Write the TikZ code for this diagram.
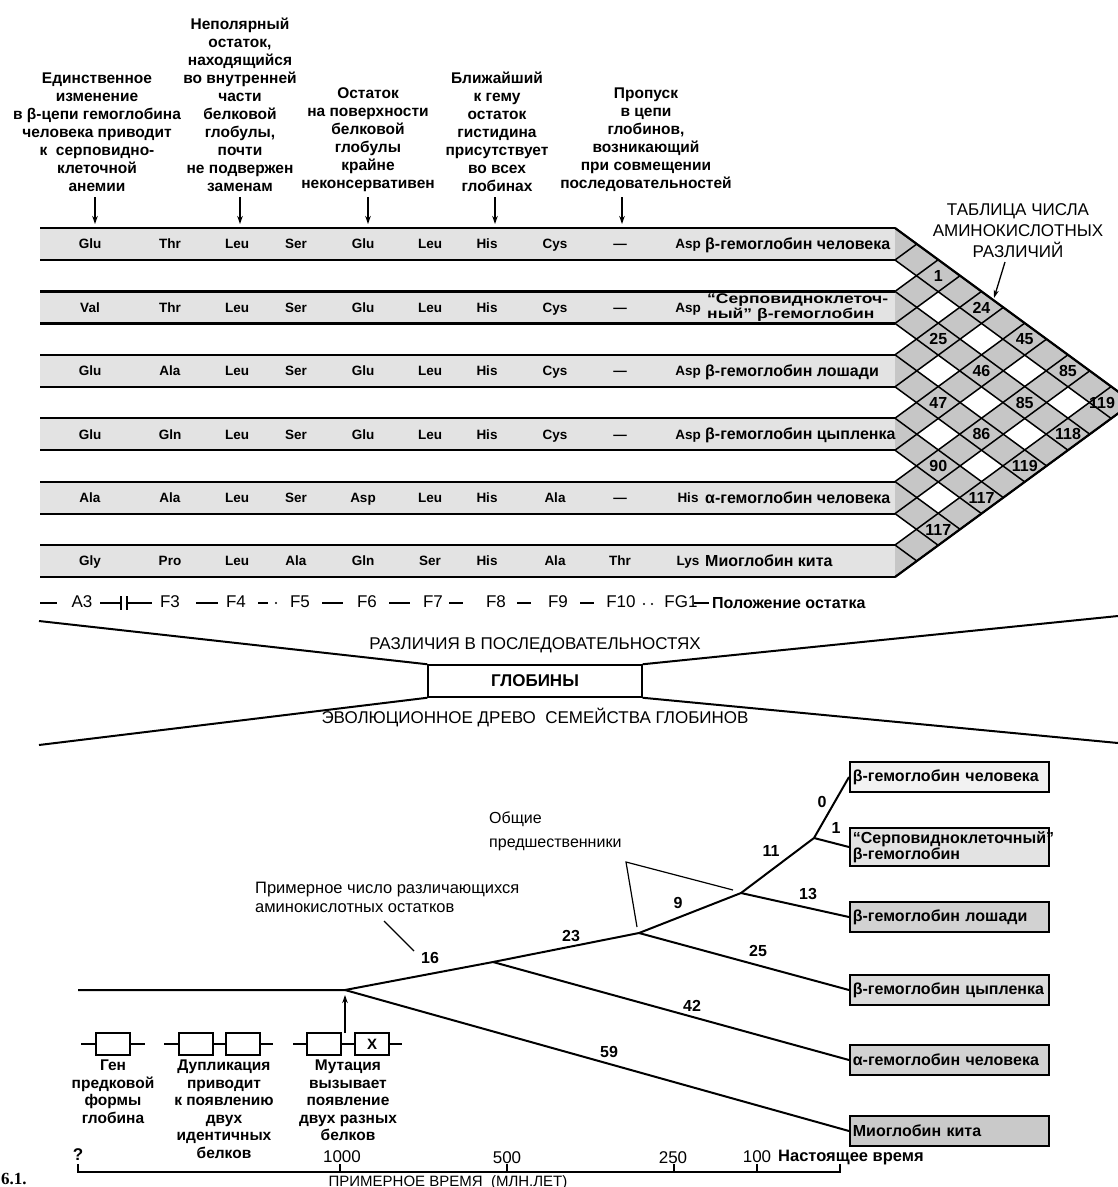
\documentclass[tikz,border=0pt]{standalone}
\usepackage{fontspec}
\setmainfont{Liberation Sans}
\newfontfamily\condf[FakeStretch=0.85]{Liberation Sans}
\newfontfamily\widef[FakeStretch=1.25]{Liberation Sans}
\newfontfamily\serfont{Liberation Serif}
\usetikzlibrary{arrows.meta}
\tikzset{
  annot/.style={align=center, inner sep=0pt, anchor=south, font=\fontsize{15.5}{18}\selectfont\bfseries},
  downarrow/.style={line width=1.4pt, -{Stealth[length=8pt,width=5.5pt]}},
  rowedge/.style={line width=2.2pt},
  latline/.style={line width=1.5pt},
  res/.style={font=\fontsize{13.5}{14}\selectfont\bfseries, inner sep=0pt, anchor=base},
  rowlab/.style={font=\fontsize{16}{16}\selectfont\bfseries, inner sep=0pt, anchor=base west},
  cellnum/.style={font=\fontsize{16}{16}\selectfont\bfseries, inner sep=0pt, anchor=base},
  poslab/.style={font=\fontsize{17}{17}\selectfont, inner sep=0pt, anchor=base},
  posdash/.style={line width=1.4pt},
  banner/.style={line width=2pt},
  bantext/.style={font=\fontsize{17}{17}\selectfont, inner sep=0pt},
  tline/.style={line width=2pt},
  tbox/.style={draw, line width=1.8pt, anchor=west, text width=193pt, minimum height=30pt, inner sep=3pt, align=left, font=\fontsize{16}{13}\selectfont\bfseries},
  tnum/.style={font=\fontsize{16}{16}\selectfont\bfseries, inner sep=0pt},
  note/.style={font=\fontsize{16.5}{19}\selectfont, inner sep=0pt, align=left, anchor=north west},
  gene/.style={draw, line width=1.4pt, fill=white, minimum width=34pt, minimum height=22pt, inner sep=0pt},
  geneline/.style={line width=1.4pt},
  glab/.style={font=\fontsize{15.5}{17.5}\selectfont\bfseries, align=center, anchor=north, inner sep=0pt},
  tick/.style={line width=1.4pt},
  tlab/.style={font=\fontsize{17}{17}\selectfont, inner sep=0pt, anchor=base},
}
\begin{document}
\begin{tikzpicture}[x=1pt,y=-1pt]
\useasboundingbox (0,0) rectangle (1118,1187);

% ---------- top annotations ----------
\node[annot] (t1) at (97,192) {Единственное\\изменение\\в β-цепи гемоглобина\\человека приводит\\к\ \ серповидно-\\клеточной\\анемии};
\node[annot] (t2) at (240,192) {Неполярный\\остаток,\\находящийся\\во внутренней\\части\\белковой\\глобулы,\\почти\\не подвержен\\заменам};
\node[annot] (t3) at (368,192) {Остаток\\на поверхности\\белковой\\глобулы\\крайне\\неконсервативен};
\node[annot] (t4) at (497,192) {Ближайший\\к гему\\остаток\\гистидина\\присутствует\\во всех\\глобинах};
\node[annot] (t5) at (646,192) {Пропуск\\в цепи\\глобинов,\\возникающий\\при совмещении\\последовательностей};
\foreach \n/\ax in {1/95,2/240,3/368,4/495,5/622}{
  \coordinate (a\n s) at (\ax,197);
  \coordinate (a\n e) at (\ax,224);
  \draw[downarrow] (a\n s) -- (a\n e);
}

% ---------- rows ----------
\foreach \r in {0,...,5}{
  \pgfmathsetmacro\rt{228+63.4*\r}
  \pgfmathsetmacro\rb{260+63.4*\r}
  \fill[gray!22] (40,\rt) rectangle (895,\rb);
}
% chevron table
\fill[gray!45] (895,228) -- (1133,402.5) -- (895,577) -- cycle;
\foreach \g in {0,...,4}{
  \foreach \h in {\g,...,4}{
    \pgfmathsetmacro\Bg{260+63.4*\g}
    \pgfmathsetmacro\Tg{291.4+63.4*\g}
    \pgfmathsetmacro\Bh{260+63.4*\h}
    \pgfmathsetmacro\Th{291.4+63.4*\h}
    \fill[white] ({895+(\Bh-\Bg)/1.466},{(\Bg+\Bh)/2}) -- ({895+(\Th-\Bg)/1.466},{(\Bg+\Th)/2}) -- ({895+(\Th-\Tg)/1.466},{(\Tg+\Th)/2}) -- ({895+(\Bh-\Tg)/1.466},{(\Tg+\Bh)/2}) -- cycle;
  }
}
\foreach \r in {0,...,5}{
  \foreach \e in {228,260}{
    \pgfmathsetmacro\ee{\e+63.4*\r}
    \draw[latline] (895,\ee) -- ({895+(577-\ee)/1.466},{(577+\ee)/2});
    \draw[latline] (895,\ee) -- ({895+(\ee-228)/1.466},{(228+\ee)/2});
    \draw[rowedge] (40,\ee) -- (895,\ee);
  }
}
\draw[rowedge] (895,228) -- (1133,402.5) -- (895,577);

% residues
\foreach \r/\rl in {0/{Glu,Thr,Leu,Ser,Glu,Leu,His,Cys,—,Asp},
                    1/{Val,Thr,Leu,Ser,Glu,Leu,His,Cys,—,Asp},
                    2/{Glu,Ala,Leu,Ser,Glu,Leu,His,Cys,—,Asp},
                    3/{Glu,Gln,Leu,Ser,Glu,Leu,His,Cys,—,Asp},
                    4/{Ala,Ala,Leu,Ser,Asp,Leu,His,Ala,—,His},
                    5/{Gly,Pro,Leu,Ala,Gln,Ser,His,Ala,Thr,Lys}}{
  \pgfmathsetmacro\ry{248.8+63.4*\r}
  \foreach \t [count=\c] in \rl {
    \pgfmathsetmacro\cx{{90,170,237,296,363,430,487,555,620,688}[\c-1]}
    \node[res] (r\r-\c) at (\cx,\ry) {\t};
  }
}
\node[rowlab] (lab0) at (705,249.5) {β-гемоглобин человека};
\node[rowlab, anchor=west, font=\widef\bfseries\fontsize{14}{12}\selectfont, align=left] (lab1) at (707,307.5) {“Серповидноклеточ-\\ный” β-гемоглобин};
\node[rowlab] (lab2) at (705,376.3) {β-гемоглобин лошади};
\node[rowlab] (lab3) at (705,439.7) {β-гемоглобин цыпленка};
\node[rowlab] (lab4) at (705,503.1) {α-гемоглобин человека};
\node[rowlab] (lab5) at (705,566.5) {Миоглобин кита};

% numbers in table
\foreach \i/\j/\v in {0/1/1,0/2/24,1/2/25,0/3/45,1/3/46,0/4/85,2/3/47,1/4/85,2/4/86,1/5/118,3/4/90,2/5/119,3/5/117,4/5/117}{
  \pgfmathsetmacro\ci{244+63.4*\i}
  \pgfmathsetmacro\cj{244+63.4*\j}
  \node[cellnum] (n\i\j) at ({895+(\cj-\ci)/1.466},{(\ci+\cj)/2+5.7}) {\v};
}
\node[cellnum] (n05) at (1102,408.2) {119};
\node[font=\fontsize{17}{21}\selectfont, align=center, inner sep=0pt] (ttl) at (1018,231) {ТАБЛИЦА ЧИСЛА\\АМИНОКИСЛОТНЫХ\\РАЗЛИЧИЙ};
\coordinate (ttla) at (1005,262);
\coordinate (ttlb) at (994,298);
\draw[line width=1.3pt, -{Stealth[length=8pt,width=5pt]}] (ttla) -- (ttlb);

% ---------- residue positions ----------
\foreach \p/\px in {A3/82,F3/170,F4/236,F5/300,F6/367,F7/433,F8/496,F9/558,F10/621,FG1/681}{
  \node[poslab] (p\p) at (\px,607.5) {\p};
}
\draw[posdash] (40,603) -- (57,603);
\draw[posdash] (100,603) -- (121,603) (121,596) -- (121,610) (127,596) -- (127,610) (127,603) -- (152,603);
\draw[posdash] (196,603) -- (218,603);
\draw[posdash] (258,603) -- (268,603);
\fill (276,603) circle (1.2pt);
\draw[posdash] (322,603) -- (343,603);
\draw[posdash] (389,603) -- (410,603);
\draw[posdash] (449,603) -- (463,603);
\draw[posdash] (517,603) -- (531,603);
\draw[posdash] (580,603) -- (594,603);
\fill (644,604) circle (1.2pt) (652,604) circle (1.2pt);
\draw[posdash] (694,603) -- (709,603);
\node[font=\fontsize{16}{16}\selectfont\bfseries, anchor=base west, inner sep=0pt] (poslabel) at (712,608) {Положение остатка};

% ---------- banner ----------
\node[draw, line width=1.5pt, minimum width=214pt, minimum height=32pt, inner sep=0pt, font=\fontsize{17}{17}\selectfont\bfseries] (glob) at (535,681) {ГЛОБИНЫ};
\coordinate (bul) at (39,621);
\coordinate (bur) at (1118,616);
\coordinate (bll) at (39,745);
\coordinate (blr) at (1118,743);
\draw[banner] (bul) -- (glob.north west);
\draw[banner] (glob.north east) -- (bur);
\draw[banner] (bll) -- (glob.south west);
\draw[banner] (glob.south east) -- (blr);
\node[bantext] (bt1) at (535,645) {РАЗЛИЧИЯ В ПОСЛЕДОВАТЕЛЬНОСТЯХ};
\node[bantext] (bt2) at (535,718) {ЭВОЛЮЦИОННОЕ ДРЕВО\ \ СЕМЕЙСТВА ГЛОБИНОВ};

% ---------- tree ----------
\coordinate (R0) at (78,990);
\coordinate (A) at (345,990);
\coordinate (C) at (493,962);
\coordinate (D) at (639,933);
\coordinate (E) at (741,893);
\coordinate (F) at (814,838);
\node[tbox, fill=gray!10] (hb) at (849,777) {β-гемоглобин человека};
\node[tbox, fill=gray!22, minimum height=36pt] (sk) at (849,847) {“Серповидноклеточный”\\β-гемоглобин};
\node[tbox, fill=gray!35] (hr) at (849,917) {β-гемоглобин лошади};
\node[tbox, fill=gray!28] (ck) at (849,990) {β-гемоглобин цыпленка};
\node[tbox, fill=gray!35] (al) at (849,1060) {α-гемоглобин человека};
\node[tbox, fill=gray!42] (my) at (849,1131) {Миоглобин кита};
\draw[tline] (R0) -- (A) -- (C) -- (D) -- (E) -- (F) -- (hb.west);
\draw[tline] (F) -- (sk.west);
\draw[tline] (E) -- (hr.west);
\draw[tline] (D) -- (ck.west);
\draw[tline] (C) -- (al.west);
\draw[tline] (A) -- (my.west);
\node[tnum] (l0) at (822,802) {0};
\node[tnum] (l1) at (836,828) {1};
\node[tnum] (l11) at (771,851) {11};
\node[tnum] (l13) at (808,894) {13};
\node[tnum] (l9) at (678,903) {9};
\node[tnum] (l25) at (758,951) {25};
\node[tnum] (l23) at (571,936) {23};
\node[tnum] (l42) at (692,1006) {42};
\node[tnum] (l59) at (609,1052) {59};
\node[tnum] (l16) at (430,958) {16};
\node[note] (prim) at (255,882) {Примерное число различающихся\\аминокислотных остатков};
\coordinate (pa) at (384,921);
\coordinate (pb) at (414,951);
\draw[line width=1.2pt] (pa) -- (pb);
\node[note, font=\fontsize{16}{24}\selectfont] (obsh) at (489,812) {Общие\\предшественники};
\coordinate (P) at (626,862);
\coordinate (PD) at (637,927);
\coordinate (PE) at (733,890);
\draw[line width=1.2pt] (PD) -- (P) -- (PE);

% genes
\coordinate (gA) at (345,1033);
\coordinate (gB) at (345,995);
\draw[line width=1.4pt, -{Stealth[length=8pt,width=5.5pt]}] (gA) -- (gB);
\draw[geneline] (81,1044) -- (145,1044);
\node[gene] (g1) at (113,1044) {};
\draw[geneline] (164,1044) -- (273,1044);
\node[gene] (g2a) at (196,1044) {};
\node[gene] (g2b) at (243,1044) {};
\draw[geneline] (293,1044) -- (402,1044);
\node[gene] (g3a) at (324,1044) {};
\node[gene, font=\fontsize{15}{15}\selectfont\bfseries] (g3b) at (372,1044) {X};
\node[glab] (gl1) at (113,1060) {Ген\\предковой\\формы\\глобина};
\node[glab] (gl2) at (224,1060) {Дупликация\\приводит\\к появлению\\двух\\идентичных\\белков};
\node[glab] (gl3) at (348,1060) {Мутация\\вызывает\\появление\\двух разных\\белков};

% ---------- timeline ----------
\draw[tick] (78,1164) -- (78,1172) -- (840,1172) -- (840,1164);
\foreach \tx in {340,507,674,757}{ \draw[tick] (\tx,1164) -- (\tx,1172); }
\node[tlab, font=\fontsize{17}{17}\selectfont\bfseries] (tq) at (78,1160) {?};
\node[tlab] (t1000) at (342,1162) {1000};
\node[tlab] (t500) at (507,1163) {500};
\node[tlab] (t250) at (673,1163) {250};
\node[tlab] (t100) at (757,1162) {100};
\node[font=\fontsize{16.5}{16.5}\selectfont\bfseries, anchor=base west, inner sep=0pt] (tnow) at (778,1161) {Настоящее время};
\node[font=\fontsize{15}{15}\selectfont, inner sep=0pt, anchor=base] (tax) at (448,1186) {ПРИМЕРНОЕ ВРЕМЯ\ \ (МЛН.ЛЕТ)};
\node[font=\serfont\bfseries\fontsize{17}{17}\selectfont, anchor=base west, inner sep=0pt] (fig) at (1,1184) {6.1.};
\end{tikzpicture}
\end{document}
